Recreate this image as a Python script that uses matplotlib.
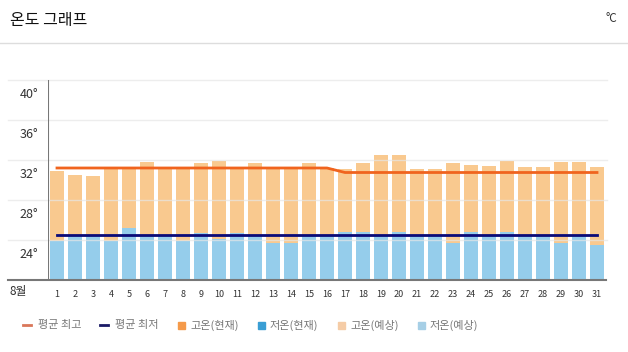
import matplotlib
matplotlib.use("Agg")
import matplotlib.pyplot as plt
import matplotlib.transforms as mtransforms
import numpy as np

plt.rcParams["font.family"] = ["Noto Sans CJK KR", "DejaVu Sans"]

# ----------------------------------
# Data (August daily temperatures)
# ----------------------------------

days = list(range(1, 32))

high_forecast = [30.9, 30.5, 30.4, 31.2, 31.2, 31.8, 31.2, 31.2, 31.7, 31.9,
                 31.2, 31.7, 31.2, 31.2, 31.7, 31.2, 31.1, 31.7, 32.5, 32.5,
                 31.1, 31.1, 31.7, 31.5, 31.4, 31.9, 31.3, 31.3, 31.8, 31.8,
                 31.3]

low_forecast = [23.9, 24.4, 24.4, 23.9, 25.2, 24.4, 24.4, 23.9, 24.7, 24.1,
                24.7, 24.4, 23.7, 23.7, 24.4, 24.4, 24.8, 24.8, 24.4, 24.8,
                24.4, 24.4, 23.7, 24.8, 24.4, 24.8, 24.4, 24.4, 23.7, 24.4,
                23.5]

avg_max = [31.2] * 16 + [30.75] * 15
avg_min = [24.45] * 31

y_ticks = [24, 28, 32, 36, 40]

# ----------------------------------
# Figure
# ----------------------------------

W, H = 628, 352
fig = plt.figure(figsize=(W / 100, H / 100), dpi=100, facecolor="white")

ax = fig.add_axes([48 / W, (H - 280) / H, (606 - 48) / W, 200 / H])
ax.set_xlim(0.5, 31.5)
ax.set_ylim(20, 40)

x = np.array(days)

ax.bar(x, np.array(high_forecast) - 20, bottom=20, width=0.78,
       color="#f9c98f", zorder=2)
ax.bar(x, np.array(low_forecast) - 20, bottom=20, width=0.78,
       color="#95cdeb", zorder=3)

ax.plot(x, avg_max, color="#f0641e", linewidth=2, zorder=5)
ax.plot(x, avg_min, color="#0a0a78", linewidth=2, zorder=5)

# gridlines extend past the left axis
left_ext = -(48 - 8) / (606 - 48)
for t in y_ticks:
    ax.axhline(t, xmin=left_ext, xmax=1.002, color="#e6e6e6",
               linewidth=1, alpha=0.7, zorder=4, clip_on=False)

ax.axhline(20, xmin=left_ext, xmax=1.0, color="#777777",
           linewidth=1.5, zorder=6, clip_on=False)
ax.axvline(0.5, color="#777777", linewidth=1.5, zorder=6)

for s in ax.spines.values():
    s.set_visible(False)

# y labels sit below their gridlines
ax.set_yticks([])
off = mtransforms.ScaledTranslation(0, -15 / 100, fig.dpi_scale_trans)
ylab_tr = mtransforms.blended_transform_factory(fig.transFigure,
                                                ax.transData) + off
for t in y_ticks:
    ax.text(38 / W, t, f"{t}°", transform=ylab_tr, fontsize=9,
            color="#333333", ha="right", va="center")

ax.set_xticks(days)
ax.set_xticklabels([str(d) for d in days], fontsize=6.5, color="#333333")
ax.tick_params(axis="x", length=0, pad=7)

fig.text(10 / W, 1 - 292 / H, "8월", fontsize=8.5, color="#333333",
         ha="left", va="center")

# ----------------------------------
# Header
# ----------------------------------

fig.text(10 / W, 1 - 20 / H, "온도 그래프", fontsize=11.5, color="#111111",
         ha="left", va="center")
fig.text(617 / W, 1 - 19 / H, "°C", fontsize=8.5, color="#333333",
         ha="right", va="center")
fig.add_artist(plt.Line2D([0, 1], [1 - 43 / H, 1 - 43 / H],
                          color="#dddddd", linewidth=1))

# ----------------------------------
# Legend
# ----------------------------------

legend_y = 1 - 325 / H
items = [
    (27, "line", "#d9775a", "평균 최고"),
    (104, "line", "#1a1a66", "평균 최저"),
    (181, "sq", "#f59a4a", "고온(현재)"),
    (261, "sq", "#3a9ed4", "저온(현재)"),
    (341, "sq", "#f5cca6", "고온(예상)"),
    (421, "sq", "#a6cfe6", "저온(예상)"),
]
for px, kind, col, label in items:
    if kind == "line":
        fig.add_artist(plt.Line2D([(px - 4) / W, (px + 4) / W],
                                  [legend_y, legend_y], color=col,
                                  linewidth=2))
        tx = px + 11
    else:
        fig.add_artist(plt.Rectangle(((px - 3) / W, legend_y - 3.5 / H),
                                     7 / W, 7 / H, color=col,
                                     transform=fig.transFigure))
        tx = px + 9
    fig.text(tx / W, legend_y, label, fontsize=8, color="#777777",
             ha="left", va="center")

plt.savefig("out.png", dpi=100, facecolor="white")
